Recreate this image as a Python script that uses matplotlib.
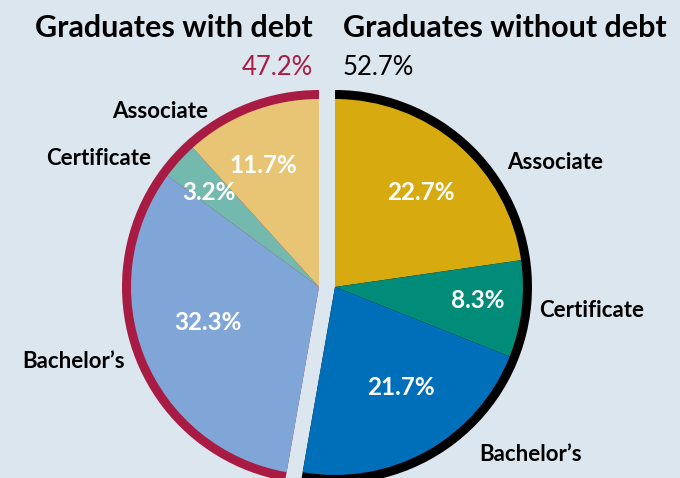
import matplotlib.pyplot as plt

# %% data (percent of graduates)
categories = ["Associate", "Certificate", "Bachelor’s"]
without_debt = [22.7, 8.3, 21.7]
with_debt = [11.7, 3.2, 32.3]
group_totals = [52.7, 47.2]          # without debt, with debt
group_titles = ["Graduates without debt", "Graduates with debt"]

# %% style
W, H = 680, 478
BG = '#dce6ef'
CRIMSON = '#a81c44'
dark_colors = ['#d7aa10', '#008c79', '#006fb9']
light_colors = ['#e8c575', '#73b9ae', '#7fa6d7']
FONT = 'Lato'

plt.rcParams['font.family'] = [FONT, 'DejaVu Sans']

fig = plt.figure(figsize=(W / 100, H / 100), dpi=100)
fig.patch.set_facecolor(BG)
ax = fig.add_axes([0, 0, 1, 1])
ax.set_facecolor(BG)

# pie order clockwise from 12 o'clock: no-debt slices, then debt slices
values = without_debt + with_debt[::-1]
right_center = (335, H - 287)
left_center = (319, H - 287)
r_outer, r_inner = 197, 188
none3 = ['none'] * 3

common = dict(startangle=90, counterclock=False, wedgeprops=dict(linewidth=0))

# outer rings
ax.pie(group_totals, colors=['black', 'none'], center=right_center, radius=r_outer, **common)
ax.pie(group_totals, colors=['none', CRIMSON], center=left_center, radius=r_outer, **common)
# slices
ax.pie(values, colors=dark_colors + none3, center=right_center, radius=r_inner, **common)
ax.pie(values, colors=none3 + light_colors[::-1], center=left_center, radius=r_inner, **common)

ax.set_xlim(0, W)
ax.set_ylim(0, H)
ax.set_aspect('equal')
ax.axis('off')

# percent labels inside slices (pixel positions: center x, baseline y)
pct_pos = [(421, 200), (478, 308), (401, 395), (208, 330), (209, 200), (263, 173)]
for v, (x, y) in zip(values, pct_pos):
    ax.text(x, H - y, f"{v:.1f}%", color='white', fontsize=17.5, fontweight='bold',
            ha='center', va='baseline')

# category labels
right_pos = [(555, 169), (592, 317), (531, 461)]
left_pos = [(160, 118), (99, 165), (74, 368)]
for name, (x, y) in zip(categories, right_pos):
    ax.text(x, H - y, name, fontsize=16, fontweight='bold', color='black',
            ha='center', va='baseline')
for name, (x, y) in zip(categories, left_pos):
    ax.text(x, H - y, name, fontsize=16, fontweight='bold', color='black',
            ha='center', va='baseline')

# titles
ax.text(343, H - 37, group_titles[0], fontsize=22, fontweight='bold', ha='left', va='baseline')
ax.text(313, H - 37, group_titles[1], fontsize=22, fontweight='bold', ha='right', va='baseline')
ax.text(343, H - 75, f"{group_totals[0]:.1f}%", fontsize=18.5, color='black', ha='left', va='baseline')
ax.text(313, H - 75, f"{group_totals[1]:.1f}%", fontsize=18.5, color=CRIMSON, ha='right', va='baseline')

fig.savefig('out.png', dpi=100, facecolor=BG)
